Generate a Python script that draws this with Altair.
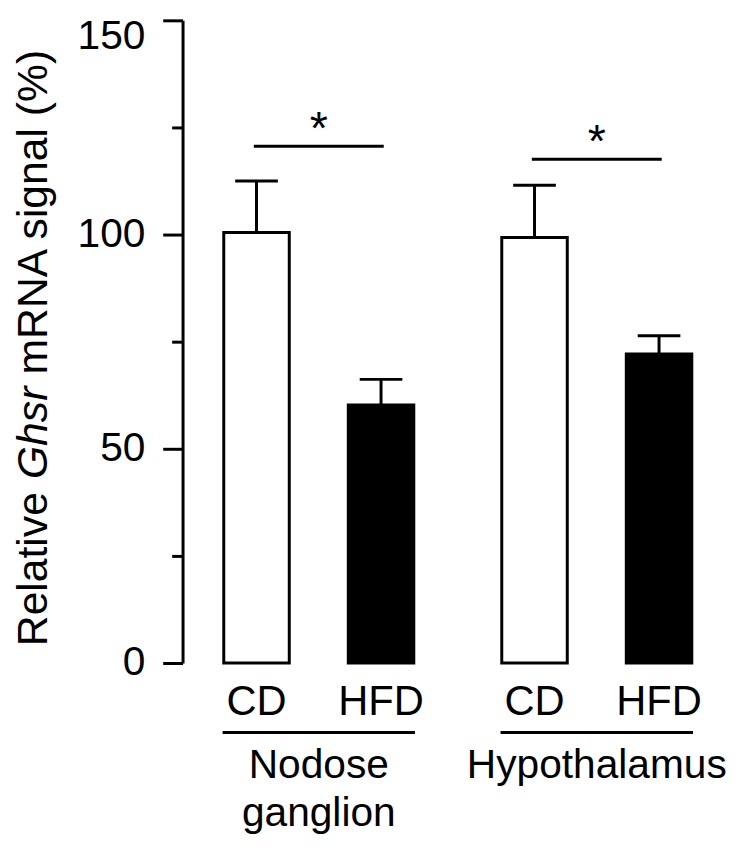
import altair as alt
import pandas as pd

# ---- data ----
regions = ["Nodose ganglion", "Nodose ganglion", "Hypothalamus", "Hypothalamus"]
diets = ["CD", "HFD", "CD", "HFD"]
means = [100.5, 60.2, 99.3, 72.1]
uppers = [112.5, 66.2, 111.5, 76.4]

group_names = ["Nodose ganglion", "Hypothalamus"]
group_labels = ["Nodose\nganglion", "Hypothalamus"]
sig_heights = [120.6, 117.6]
sig_marks = ["*", "*"]

diet_order = ["CD", "HFD"]
diet_fills = ["white", "black"]

y_major = [0, 50, 100, 150]
y_minor = [25, 75, 125]
title_parts = ["Relative", "Ghsr", "mRNA signal (%)"]

FONT = "Liberation Sans"

df = pd.DataFrame({"region": regions, "diet": diets, "mean": means, "upper": uppers})
gdf = pd.DataFrame({"region": group_names, "label": group_labels,
                    "sig": sig_heights, "star": sig_marks})

x_scale = alt.Scale(domain=group_names, paddingInner=0.2, paddingOuter=0.09, round=False)
xo_scale = alt.Scale(domain=diet_order, paddingInner=0.474, paddingOuter=0.13, round=False)
y_scale = alt.Scale(domain=[0, 150], nice=False, zero=True)


def X(axis=None):
    return alt.X("region:N", scale=x_scale, axis=axis)


XO = alt.XOffset("diet:N", scale=xo_scale)

major_axis = alt.Axis(values=y_major, tickSize=20, tickWidth=3, tickColor="black",
                      domainWidth=3, domainColor="black", grid=False, title=None,
                      labelFont=FONT, labelFontSize=41, labelColor="black",
                      labelPadding=18, orient="left", format="d",
                      labelOffset={"condition": {"test": "datum.value === 150", "value": 16},
                                   "value": 0})
minor_axis = alt.Axis(values=y_minor, tickSize=11, tickWidth=3, tickColor="black",
                      labels=False, domain=False, grid=False, title=None, orient="left")
x_axis = alt.Axis(labels=False, ticks=False, title=None, domainWidth=3,
                  domainColor="black", grid=False)

err = alt.Chart(df).mark_rule(color="black", strokeWidth=3, opacity=1).encode(
    x=X(), xOffset=XO,
    y=alt.Y("mean:Q", scale=y_scale, axis=minor_axis),
    y2="upper:Q",
)

caps = alt.Chart(df).mark_tick(color="black", size=43, thickness=3, opacity=1,
                               orient="horizontal").encode(
    x=X(), xOffset=XO,
    y=alt.Y("upper:Q", scale=y_scale, axis=None),
)

bars = alt.Chart(df).mark_bar(stroke="black", strokeWidth=3, opacity=1).encode(
    x=X(x_axis), xOffset=XO,
    y=alt.Y("mean:Q", scale=y_scale, axis=major_axis),
    fill=alt.Fill("diet:N", scale=alt.Scale(domain=diet_order, range=diet_fills), legend=None),
)

diet_text = alt.Chart(df).mark_text(font=FONT, fontSize=42, color="black",
                                    baseline="alphabetic", align="center").encode(
    x=X(), xOffset=XO, y=alt.value(700), text="diet:N",
)

underline = alt.Chart(gdf).mark_tick(color="black", size=194, thickness=3, opacity=1,
                                     orient="horizontal").encode(
    x=X(), y=alt.value(718),
)

group_text = alt.Chart(gdf).mark_text(font=FONT, fontSize=41, color="black",
                                      baseline="alphabetic", align="center",
                                      lineBreak="\n", lineHeight=48).encode(
    x=X(), y=alt.value(764), text="label:N",
)

sig_line = alt.Chart(gdf).mark_tick(color="black", size=131, thickness=3, opacity=1,
                                    orient="horizontal").encode(
    x=X(), y=alt.Y("sig:Q", scale=y_scale, axis=None),
)

stars = alt.Chart(gdf).mark_text(font=FONT, fontSize=47, color="black",
                                 baseline="alphabetic", align="center", dy=-2).encode(
    x=X(), y=alt.Y("sig:Q", scale=y_scale, axis=None), text="star:N",
)

# y-axis title, split so that the gene name can be italic
title_y = [631, 462.5, 357.0]
title_style = ["normal", "italic", "normal"]
title_layers = []
for part, ypos, style in zip(title_parts, title_y, title_style):
    title_layers.append(
        alt.Chart(pd.DataFrame({"t": [part]})).mark_text(
            font=FONT, fontSize=43, color="black", angle=270, align="left",
            baseline="alphabetic", fontStyle=style,
        ).encode(x=alt.value(-137), y=alt.value(ypos), text="t:N")
    )

chart = alt.layer(
    err, caps, bars, diet_text, underline, group_text, sig_line, stars, *title_layers
).resolve_axis(y="independent").properties(
    width=555, height=648,
    padding={"left": 176, "top": 9, "right": 0, "bottom": 174},
    autosize="none",
).configure_view(stroke=None)

chart.save("out.html", embed_options={"renderer": "svg", "actions": False})
